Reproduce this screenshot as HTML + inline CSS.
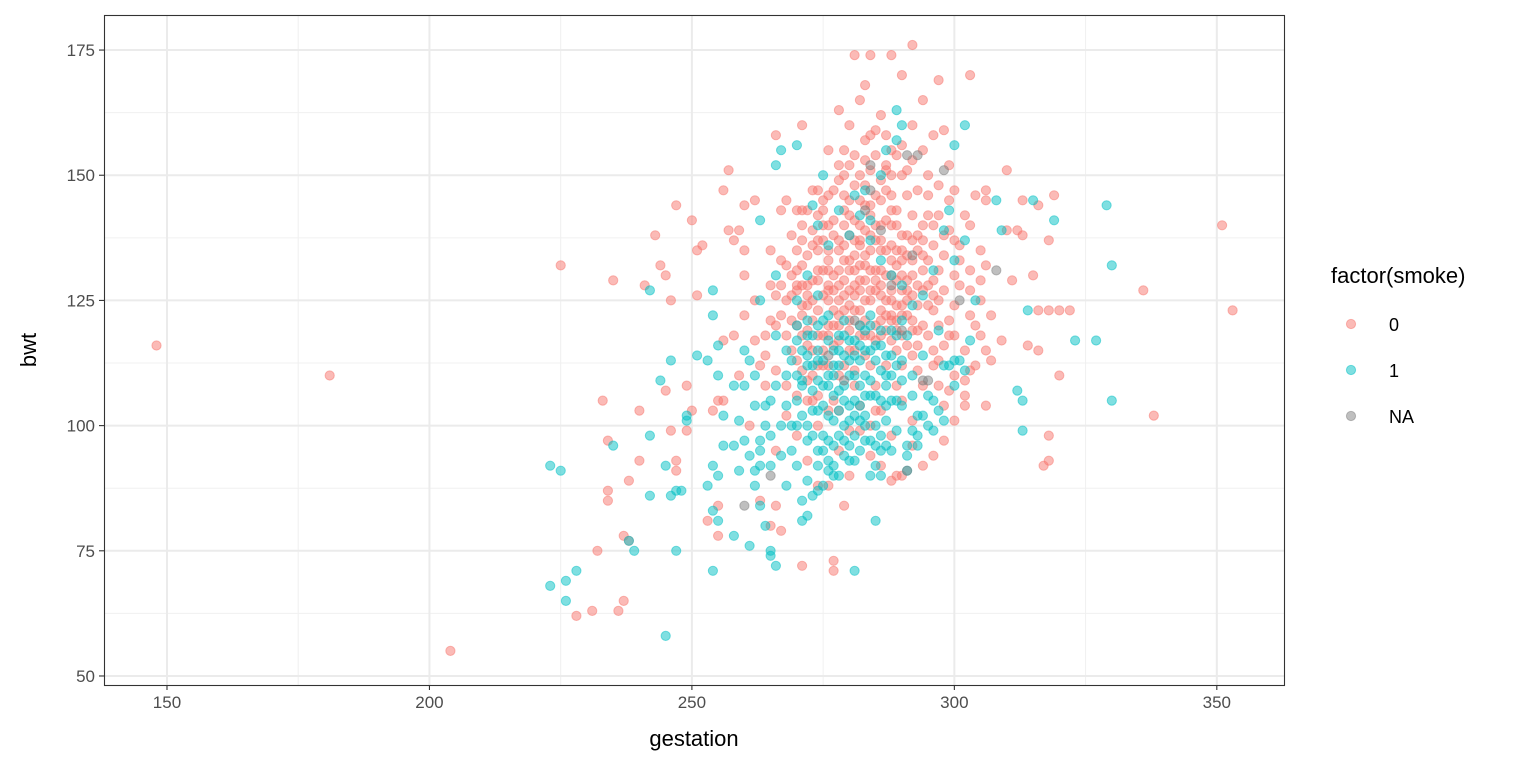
<!DOCTYPE html>
<html><head><meta charset="utf-8">
<style>
html,body{margin:0;padding:0;background:#fff;}
svg{display:block;font-family:"Liberation Sans",Arial,sans-serif;}
</style></head>
<body>
<svg id="chart" width="1536" height="768" viewBox="0 0 1536 768" xmlns="http://www.w3.org/2000/svg">
  <rect x="0" y="0" width="1536" height="768" fill="#fff"/>
  <g id="grid"></g>
  <g id="points"></g>
  <rect x="104.5" y="15.5" width="1180" height="670" fill="none" stroke="#333" stroke-width="1.1"/>
  <g id="axes"></g>
  <text x="694" y="746" font-size="22" text-anchor="middle" fill="#000">gestation</text>
  <text transform="translate(36,350) rotate(-90)" font-size="22" text-anchor="middle" fill="#000">bwt</text>
  <g>
    <text x="1331" y="283" font-size="22" fill="#000">factor(smoke)</text>
    <circle cx="1351" cy="324" r="4.6" fill="#F8766D" fill-opacity="0.5" stroke="#F8766D" stroke-opacity="0.5"/>
    <text x="1389" y="331" font-size="18" fill="#000">0</text>
    <circle cx="1351" cy="370" r="4.6" fill="#00BFC4" fill-opacity="0.5" stroke="#00BFC4" stroke-opacity="0.5"/>
    <text x="1389" y="377" font-size="18" fill="#000">1</text>
    <circle cx="1351" cy="416" r="4.6" fill="#7F7F7F" fill-opacity="0.5" stroke="#7F7F7F" stroke-opacity="0.5"/>
    <text x="1389" y="423" font-size="18" fill="#000">NA</text>
  </g>
</svg>
<script>
const xTicks = [150, 200, 250, 300, 350];
const xMinor = [175, 225, 275, 325];
const yTicks = [50, 75, 100, 125, 150, 175];
const yMinor = [62.5, 87.5, 112.5, 137.5, 162.5];
// smoke = 0 (gestation, bwt pairs)
const smoke0 = [148,116, 181,110, 204,55, 225,132, 351,140, 353,123, 338,102, 336,127, 303,170, 292,176, 281,174, 284,174, 288,174,
228,62, 231,63, 236,63, 237,65, 237,78, 238,77, 232,75, 234,87, 233,105, 234,97, 234,85, 235,129, 238,89, 240,103, 241,128, 243,138, 244,132, 245,130, 246,125, 240,93, 245,107, 246,99, 247,93, 247,91, 249,99, 247,144, 250,103, 249,108, 250,141, 251,135, 251,126, 252,136, 254,103, 255,105, 253,81, 255,84, 255,78, 256,117, 256,105, 257,151, 257,139, 258,137, 259,139, 260,135, 260,144, 256,147,
311,129, 312,139, 315,130, 316,123, 318,123, 320,123, 317,92, 318,98, 318,93, 319,146, 316,144, 318,137, 313,145, 320,110, 322,123, 314,116, 316,115, 313,138, 310,151, 310,139, 306,147, 306,104, 306,115, 303,111, 302,106, 302,109, 305,135, 303,127,
270,120, 272,128, 274,135, 275,118, 276,125, 277,130, 278,122, 279,140, 280,127, 281,115, 282,132, 283,125, 284,138, 285,120, 286,128, 287,135, 288,117, 289,124, 290,130, 291,122, 292,142, 293,119, 294,127, 295,133, 296,115, 297,125, 298,138, 299,121, 300,130, 271,140, 273,110, 275,145, 277,105, 279,150, 281,108, 283,148, 285,103, 287,152, 289,108, 291,146, 293,111, 295,150, 297,108, 299,145, 268,125, 269,115, 270,135, 272,105, 274,112, 276,140, 278,110, 280,145, 282,118, 284,112, 286,145, 288,130, 290,112, 292,126, 294,137, 296,129, 298,116, 300,110, 280,160, 282,165, 284,158, 286,162, 288,155, 290,170, 292,160, 294,165, 296,158, 297,169, 283,168, 278,163, 276,155, 274,142, 273,125, 271,118, 269,130, 267,128, 266,120, 264,118, 262,125, 260,122, 258,118, 263,112, 265,135, 267,143, 262,145, 260,130, 259,110, 261,100, 264,108, 266,95, 268,102, 270,98, 272,93, 274,100, 276,88, 278,95, 280,90, 282,99, 284,94, 286,103, 288,98, 290,105, 292,101, 294,108, 296,112, 298,104, 300,118, 302,115, 304,120, 305,125, 306,132, 303,140, 301,136, 299,152, 297,148, 295,142, 293,135, 291,138, 289,143, 287,141, 285,131, 283,139, 281,137, 279,133, 277,138, 275,131, 273,136, 271,132, 269,138, 267,133, 265,128, 280,115, 282,120, 284,125, 286,118, 288,122, 290,118, 292,114, 294,120, 296,123, 298,127, 300,124, 278,128, 276,120, 274,123, 272,119, 270,113, 276,112, 278,117, 280,121, 282,127, 284,131, 286,123, 288,136, 290,127, 292,133, 294,131, 296,136, 285,127, 287,125, 289,129, 291,129, 283,129, 281,131, 279,126, 277,116, 275,112, 273,115, 271,124, 281,141, 283,144, 285,146, 287,147, 289,135, 291,134, 293,128, 295,124, 297,120, 299,118, 301,128, 303,122, 305,118, 307,113, 304,112, 302,104, 300,101, 298,97, 296,94, 294,92, 292,96, 290,90, 288,89, 286,92, 284,100, 282,104, 280,99, 278,103, 276,103, 274,106, 272,109, 270,106, 268,108, 266,111, 264,114, 262,117, 288,146, 290,150, 285,154, 283,153, 281,148, 279,146, 287,151, 289,140,
277,73, 277,71, 271,72, 265,80, 267,79, 263,85, 266,84, 289,90, 274,88, 279,84, 281,128, 283,134, 285,137, 282,136, 280,133, 278,135, 276,131, 274,129, 272,126, 286,126, 288,121, 290,124, 292,119, 279,123, 281,126, 283,121, 285,117, 287,119, 289,115, 276,127, 278,131, 280,138, 282,140, 284,142, 286,140, 288,143, 290,138, 292,137, 294,140, 296,140, 298,134, 300,137, 302,142, 304,146, 306,145, 300,147, 298,159, 294,155, 292,153, 290,156, 288,150, 286,149, 284,151, 282,150, 280,152, 278,149, 276,146, 274,147, 272,143, 270,143, 268,145, 266,158, 271,160, 279,155,
270,127, 271,122, 272,134, 273,129, 274,118, 275,126, 276,133, 277,123, 278,137, 279,129, 280,124, 281,134, 282,129, 283,118, 284,127, 285,140, 286,121, 287,130, 288,125, 289,132, 290,122, 291,127, 292,130, 293,124, 270,131, 271,137, 272,116, 273,121, 274,131, 275,137, 276,128, 277,127, 278,120, 279,136, 280,131, 281,123, 282,137, 283,132, 284,135, 285,129, 286,135, 287,122, 288,133, 289,121, 290,135, 291,125, 292,121, 293,138, 294,134, 295,128, 296,126, 297,131, 280,142, 282,145, 284,144, 286,137, 288,140, 279,143, 277,141, 275,140, 273,139, 271,128, 269,121, 268,118, 267,122, 266,126, 265,121, 274,137, 276,118, 278,125, 280,119, 282,123, 284,118, 286,131, 288,127, 290,133, 276,135, 272,124, 270,128, 268,132, 269,126, 271,111, 273,105, 275,115, 277,120, 279,112, 281,111, 283,114, 285,108, 287,112, 289,119, 291,116, 293,116, 295,118, 297,113, 299,107, 271,143, 273,147, 275,143, 277,147, 278,152, 281,154, 283,157, 285,159, 287,158, 289,154, 291,151, 293,147, 295,146, 297,142, 299,139, 301,133, 303,131, 305,129, 307,122, 309,117];
// smoke = 1
const smoke1 = [223,68, 223,92, 225,91, 226,69, 226,65, 228,71, 238,77, 239,75, 235,96, 242,98, 242,86, 245,58, 244,109, 246,113, 245,92, 246,86, 247,87, 248,87, 247,75, 242,127, 249,101, 249,102, 251,114, 253,88, 254,83, 254,71, 254,127, 254,122, 254,92, 255,90, 255,81, 256,96, 255,116, 258,78, 261,76, 263,84, 263,97, 264,80, 262,91, 265,74, 266,72, 265,75, 266,152, 267,155, 270,156, 263,141, 271,81, 271,85, 272,82, 274,87, 275,88, 277,90, 281,71, 285,81, 286,90, 291,91, 291,96, 293,98, 304,125, 312,107, 313,105, 313,99, 314,123, 315,145, 319,141, 323,117, 327,117, 329,144, 330,132, 330,105, 289,163, 290,160, 302,160, 300,156, 308,145, 309,139,
268,110, 270,105, 271,115, 272,100, 273,112, 274,120, 275,108, 276,97, 277,115, 278,103, 279,118, 280,110, 281,98, 282,113, 283,106, 284,120, 285,100, 286,116, 287,108, 288,95, 289,112, 290,104, 291,118, 292,110, 293,102, 294,114, 295,106, 296,99, 297,119, 298,112, 300,108, 266,118, 267,100, 269,95, 270,125, 272,130, 274,140, 276,136, 278,143, 280,138, 282,142, 284,137, 286,133, 288,130, 290,128, 292,124, 294,126, 296,131, 298,139, 300,133, 265,105, 264,100, 263,95, 262,110, 260,115, 258,108, 256,102, 262,88, 265,92, 268,88, 270,92, 273,86, 275,95, 277,92, 279,97, 281,93, 283,100, 285,96, 287,101, 289,105, 291,94, 293,96, 295,100, 297,103, 299,112, 301,113, 303,117, 302,137, 299,143, 273,144, 275,150, 281,146, 284,141, 287,155, 289,157, 286,150, 283,147, 272,97, 274,103, 276,108, 278,112, 280,117, 282,120, 284,115, 286,111, 288,119, 290,121, 276,122, 274,126, 272,121, 270,117, 279,121, 281,105, 283,110, 285,113, 287,114, 289,118, 271,102, 273,98, 277,101, 279,105, 258,96, 259,101, 261,113, 260,97, 255,110, 253,113, 263,125, 266,130,
269,113, 271,109, 273,118, 275,121, 277,110, 279,114, 281,117, 283,115, 278,107, 280,104, 276,117, 274,115, 272,112, 270,110, 268,115, 282,108, 284,106, 286,105, 288,110, 290,113, 292,106, 294,102, 296,105, 298,101, 300,113, 302,111, 275,98, 277,96, 279,100, 281,102, 283,97, 285,92, 287,96, 289,99,
271,108, 272,114, 273,103, 274,109, 275,113, 276,102, 277,106, 278,118, 279,108, 280,101, 281,110, 282,104, 283,119, 284,109, 285,116, 286,98, 287,104, 288,114, 273,107, 275,104, 277,112, 279,94, 281,114, 283,102, 285,106, 287,110, 270,100, 268,104, 266,108, 264,104, 262,104, 260,108, 274,92, 276,93, 278,98, 280,96, 282,95, 284,97, 270,120, 272,118, 274,113, 276,110, 278,115, 280,113, 282,116, 284,122, 286,119, 288,105, 290,109, 292,99, 269,100, 267,94, 265,98, 263,92, 261,94, 259,91, 272,89, 274,95, 276,91, 278,90, 280,93, 282,101, 284,90, 286,95];
// smoke = NA
const smokeNA = [260,84, 265,90, 291,91, 298,151, 308,131, 301,125, 294,109, 291,154, 284,147, 284,152, 283,143, 286,139, 288,128, 292,134, 276,114, 279,109, 281,121, 290,119, 295,109, 293,154];

const NS = "http://www.w3.org/2000/svg";
const X0 = 138, X1 = 362.8, PX0 = 104, PX1 = 1284;
const Y0 = 48.2, Y1 = 182, PY0 = 685, PY1 = 15;
function xs(v){ return PX0 + (v - X0) / (X1 - X0) * (PX1 - PX0); }
function ys(v){ return PY0 - (v - Y0) / (Y1 - Y0) * (PY0 - PY1); }

const grid = document.getElementById('grid');
const axes = document.getElementById('axes');
function line(g, x1, y1, x2, y2, stroke, w){
  const l = document.createElementNS(NS, 'line');
  l.setAttribute('x1', x1); l.setAttribute('y1', y1); l.setAttribute('x2', x2); l.setAttribute('y2', y2);
  l.setAttribute('stroke', stroke); l.setAttribute('stroke-width', w);
  g.appendChild(l); return l;
}
xMinor.forEach(v => {
  const l = line(grid, xs(v), PY1, xs(v), PY0, '#f0f0f0', 1);
  
  
});
yMinor.forEach(v => {
  const l = line(grid, PX0, ys(v), PX1, ys(v), '#f0f0f0', 1);
  
  
});
xTicks.forEach(v => {
  const l = line(grid, xs(v), PY1, xs(v), PY0, '#ebebeb', 2);
  
  
  const t = line(axes, xs(v), PY0, xs(v), PY0 + 5, '#333', 1.1);
  
  
  const tx = document.createElementNS(NS, 'text');
  tx.setAttribute('x', xs(v)); tx.setAttribute('y', PY0 + 23);
  tx.setAttribute('text-anchor', 'middle'); tx.setAttribute('font-size', '17'); tx.setAttribute('fill', '#4d4d4d');
  tx.textContent = v;
  
  
  axes.appendChild(tx);
});
yTicks.forEach(v => {
  const l = line(grid, PX0, ys(v), PX1, ys(v), '#ebebeb', 2);
  
  
  const t = line(axes, PX0 - 5, ys(v), PX0, ys(v), '#333', 1.1);
  
  
  const tx = document.createElementNS(NS, 'text');
  tx.setAttribute('x', PX0 - 9); tx.setAttribute('y', ys(v) + 6);
  tx.setAttribute('text-anchor', 'end'); tx.setAttribute('font-size', '17'); tx.setAttribute('fill', '#4d4d4d');
  tx.textContent = v;
  
  
  axes.appendChild(tx);
});

const pts = document.getElementById('points');
function drawSeries(arr, color, name){
  for (let i = 0; i + 1 < arr.length; i += 2){
    const c = document.createElementNS(NS, 'circle');
    c.setAttribute('cx', xs(arr[i]).toFixed(1));
    c.setAttribute('cy', ys(arr[i+1]).toFixed(1));
    c.setAttribute('r', 4.6);
    c.setAttribute('fill', color);
    c.setAttribute('fill-opacity', 0.5);
    c.setAttribute('stroke', color);
    c.setAttribute('stroke-opacity', 0.5);
    
    
    pts.appendChild(c);
  }
}
drawSeries(smoke0, '#F8766D', 'point-smoke-0');
drawSeries(smoke1, '#00BFC4', 'point-smoke-1');
drawSeries(smokeNA, '#7F7F7F', 'point-smoke-na');
</script>
</body></html>
